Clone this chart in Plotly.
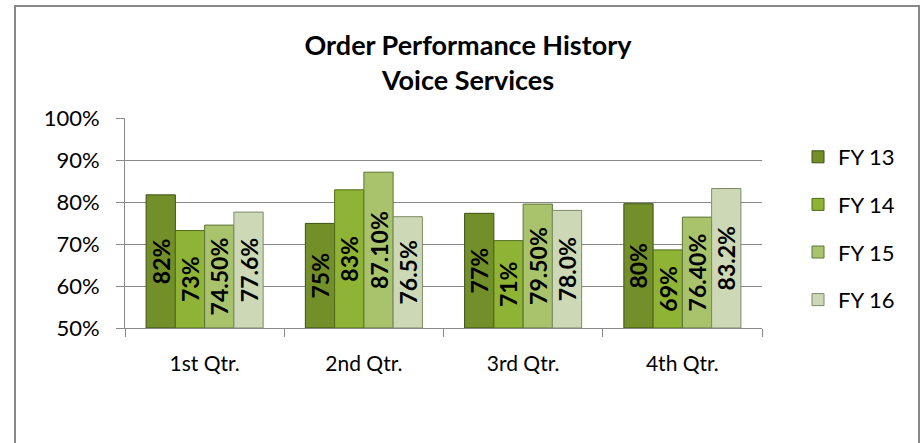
import plotly.graph_objects as go

quarters = ["1st Qtr.", "2nd Qtr.", "3rd Qtr.", "4th Qtr."]
series = ["FY 13", "FY 14", "FY 15", "FY 16"]
fy13 = [0.817, 0.749, 0.773, 0.796]
fy14 = [0.732, 0.829, 0.708, 0.686]
fy15 = [0.745, 0.871, 0.795, 0.764]
fy16 = [0.776, 0.765, 0.780, 0.832]
fy13_labels = ["82%", "75%", "77%", "80%"]
fy14_labels = ["73%", "83%", "71%", "69%"]
fy15_labels = ["74.50%", "87.10%", "79.50%", "76.40%"]
fy16_labels = ["77.6%", "76.5%", "78.0%", "83.2%"]
y_ticks = [0.5, 0.6, 0.7, 0.8, 0.9, 1.0]
axis_min = 0.5

values = [fy13, fy14, fy15, fy16]
labels = [fy13_labels, fy14_labels, fy15_labels, fy16_labels]
fills = ["#738f2a", "#8fb435", "#a8c36c", "#cdd9b6"]
edges = ["#3d5012", "#4f6a18", "#5e7438", "#7c8a68"]

W, H = 921, 443
L, R, T, B = 125, 159, 118, 115
pw, ph = W - L - R, H - T - B

fig = go.Figure()
for i, name in enumerate(series):
    fig.add_trace(go.Bar(
        x=quarters, y=[v - axis_min for v in values[i]], base=axis_min,
        name=name, text=labels[i],
        textposition="inside", insidetextanchor="middle", textangle=-90,
        textfont=dict(family="Lato", size=23, color="black", weight="bold"),
        marker=dict(color=fills[i], line=dict(color=edges[i], width=1)),
        legendgroup=name,
    ))

fig.update_layout(
    width=W, height=H, autosize=False,
    margin=dict(l=L, r=R, t=T, b=B),
    paper_bgcolor="white", plot_bgcolor="white",
    barmode="group", bargap=0.265, bargroupgap=0,
    uniformtext=dict(mode="show", minsize=23),
    font=dict(family="Lato", size=21, color="black"),
    title=dict(text="<b>Order Performance History<br>Voice Services</b>",
               x=468 / W, xanchor="center", xref="container",
               y=1 - 55 / H, yanchor="middle", yref="container",
               font=dict(family="Lato", size=27, color="black")),
    legend=dict(x=(798 - L) / pw, xanchor="left", y=(328 - 136) / ph, yanchor="top",
                traceorder="grouped", tracegroupgap=16,
                font=dict(family="Lato", size=22, color="black"),
                bgcolor="rgba(0,0,0,0)"),
    xaxis=dict(showline=True, linecolor="#888888", linewidth=1,
               ticks="outside", tickson="boundaries", ticklen=8, tickcolor="#888888",
               showgrid=False, ticklabelstandoff=17,
               tickfont=dict(family="Lato", size=21, color="black")),
    yaxis=dict(range=[0.5, 1.0], tickvals=y_ticks, tickformat=".0%",
               showline=True, linecolor="#888888", linewidth=1,
               ticks="outside", ticklen=8, tickcolor="#888888",
               showgrid=True, gridcolor="#888888", gridwidth=1,
               zeroline=False, ticklabelstandoff=12,
               tickfont=dict(family="Lato", size=22, color="black")),
    shapes=[dict(type="rect", xref="paper", yref="paper",
                 x0=(15 - L) / pw, x1=(919 - L) / pw,
                 y0=(328 - 460) / ph, y1=(328 - 6) / ph,
                 line=dict(color="#888888", width=2), fillcolor="rgba(0,0,0,0)")],
)

fig.write_html("out.html", config={"displayModeBar": False},
               post_script="document.body.style.margin='0px';")
